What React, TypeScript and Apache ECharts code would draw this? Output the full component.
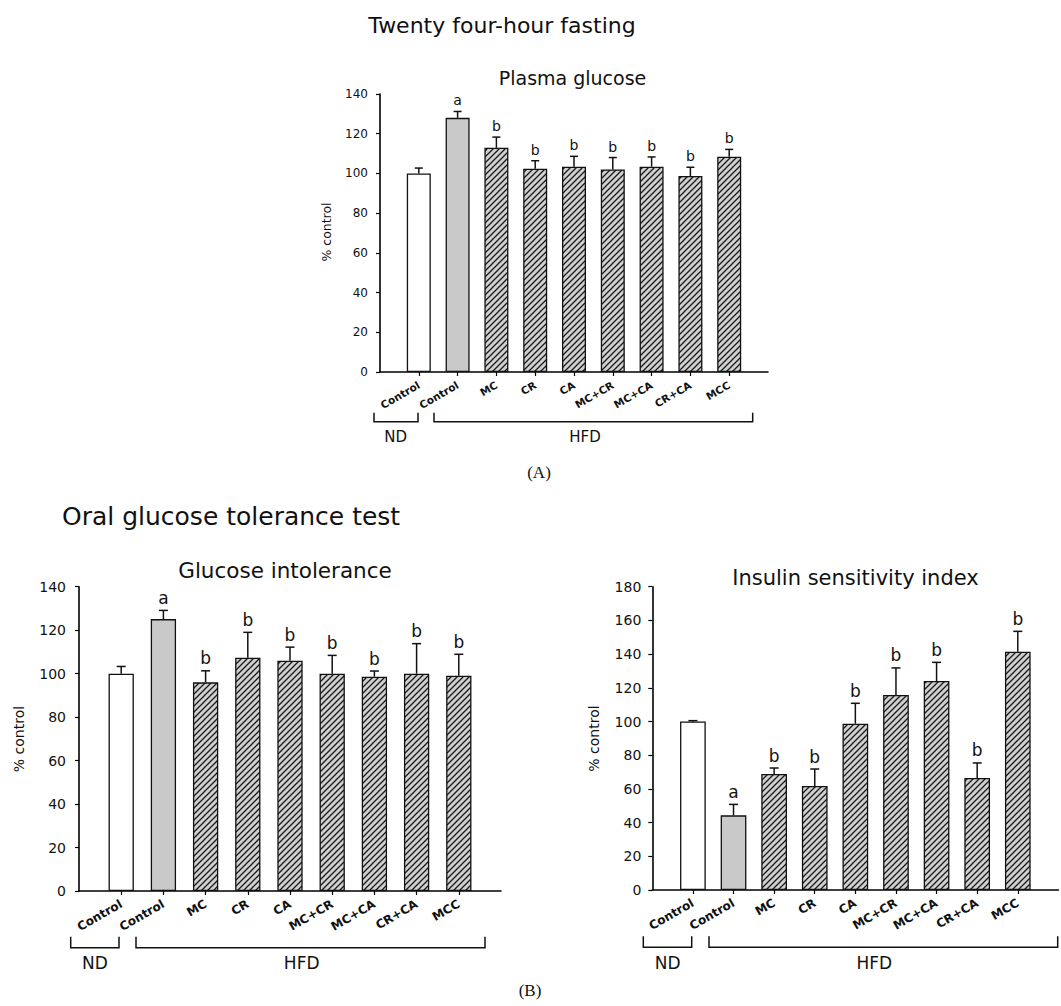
import React, { useEffect, useRef } from 'react';
import * as echarts from 'echarts';

// ---------- data ----------
const slots = ['', 'Control', 'Control', 'MC', 'CR', 'CA', 'MC+CR', 'MC+CA', 'CR+CA', 'MCC', ''];
const letters = ['', 'a', 'b', 'b', 'b', 'b', 'b', 'b', 'b'];

const plasmaMean = [100, 128.0, 112.9, 102.4, 103.4, 102.0, 103.4, 98.7, 108.4];
const plasmaErr = [2.7, 3.2, 5.4, 4.0, 5.2, 6.0, 4.9, 4.4, 3.7];

const toleranceMean = [100, 125.1, 96.0, 107.3, 105.9, 100.0, 98.6, 100.0, 99.0];
const toleranceErr = [3.3, 4.0, 5.3, 11.7, 6.3, 8.4, 2.6, 13.8, 9.9];

const insulinMean = [100, 44.3, 68.8, 61.7, 98.7, 115.7, 124.0, 66.5, 141.4];
const insulinErr = [0.5, 6.5, 3.6, 10.1, 12.1, 16.1, 11.1, 8.9, 12.1];

const yMaxA = 140;
const yMaxB1 = 140;
const yMaxB2 = 180;
const yStep = 20;

const FONT = 'DejaVu Sans';

function makeHatch() {
  const s = 6;
  const c = document.createElement('canvas');
  c.width = s;
  c.height = s;
  const ctx = c.getContext('2d')!;
  ctx.fillStyle = '#d0d0d0';
  ctx.fillRect(0, 0, s, s);
  ctx.strokeStyle = '#1a1a1a';
  ctx.lineWidth = 1.3;
  ctx.beginPath();
  ctx.moveTo(-1, s + 1);
  ctx.lineTo(s + 1, -1);
  ctx.moveTo(-1, 1);
  ctx.lineTo(1, -1);
  ctx.moveTo(s - 1, s + 1);
  ctx.lineTo(s + 1, s - 1);
  ctx.stroke();
  return { image: c.toDataURL(), repeat: 'repeat', imageWidth: s, imageHeight: s };
}

export default function App() {
  const ref = useRef<HTMLDivElement>(null);

  useEffect(() => {
    if (!ref.current) return;
    const chart = echarts.init(ref.current, null, { renderer: 'svg' });
    const hatch = makeHatch();

    const panels = [
      { grid: { left: 380, top: 94, width: 388, height: 278 }, max: yMaxA, mean: plasmaMean, err: plasmaErr, barWidth: 24, xFont: 10.5, yFont: 12, letterFont: 14, yMargin: 12, cap: 4 },
      { grid: { left: 79, top: 586.7, width: 422, height: 304.3 }, max: yMaxB1, mean: toleranceMean, err: toleranceErr, barWidth: 25.3, xFont: 12, yFont: 14, letterFont: 17, yMargin: 13, cap: 4.5 },
      { grid: { left: 652.3, top: 586.7, width: 420.7, height: 303.3 }, max: yMaxB2, mean: insulinMean, err: insulinErr, barWidth: 25.7, xFont: 12, yFont: 14, letterFont: 17, yMargin: 11, cap: 4.5 },
    ];

    const grids: any[] = [];
    const xAxes: any[] = [];
    const yAxes: any[] = [];
    const series: any[] = [];

    panels.forEach((p, gi) => {
      grids.push({ ...p.grid, containLabel: false });
      xAxes.push({
        type: 'category',
        gridIndex: gi,
        data: slots,
        boundaryGap: false,
        axisLine: { lineStyle: { color: '#000', width: 1.6 } },
        axisTick: { show: true, interval: (i: number) => i > 0 && i < slots.length - 1, length: 4, lineStyle: { color: '#000', width: 1.2 } },
        axisLabel: { interval: 0, rotate: 30, fontFamily: FONT, fontWeight: 'bold', fontSize: p.xFont, color: '#111', margin: 12 },
        splitLine: { show: false },
      });
      yAxes.push({
        type: 'value',
        gridIndex: gi,
        min: 0,
        max: p.max,
        interval: yStep,
        axisLine: { show: true, lineStyle: { color: '#000', width: 1.6 } },
        axisTick: { show: true, length: 4, lineStyle: { color: '#000', width: 1.2 } },
        axisLabel: { fontFamily: FONT, fontSize: p.yFont, color: '#111', margin: p.yMargin },
        splitLine: { show: false },
      });
      const barData: any[] = slots.map(() => '-');
      p.mean.forEach((m, k) => {
        let fill: any = hatch;
        if (k === 0) fill = '#ffffff';
        if (k === 1) fill = '#c9c9c9';
        barData[k + 1] = { value: m, itemStyle: { color: fill, borderColor: '#111', borderWidth: 1.3 } };
      });
      series.push({
        type: 'bar',
        xAxisIndex: gi,
        yAxisIndex: gi,
        data: barData,
        barWidth: p.barWidth,
        z: 2,
      });
      series.push({
        type: 'custom',
        xAxisIndex: gi,
        yAxisIndex: gi,
        z: 3,
        data: p.mean.map((m, k) => [k + 1, m, p.err[k]]),
        renderItem: (params: any, api: any) => {
          const i = api.value(0);
          const v = api.value(1);
          const e = api.value(2);
          const base = api.coord([i, v]);
          const top = api.coord([i, v + e]);
          const letter = letters[params.dataIndex];
          const children: any[] = [
            { type: 'line', shape: { x1: base[0], y1: base[1], x2: top[0], y2: top[1] }, style: { stroke: '#111', lineWidth: 1.5 } },
            { type: 'line', shape: { x1: top[0] - p.cap, y1: top[1], x2: top[0] + p.cap, y2: top[1] }, style: { stroke: '#111', lineWidth: 1.5 } },
          ];
          if (letter) {
            children.push({
              type: 'text',
              style: { text: letter, x: top[0], y: top[1] - 4, align: 'center', verticalAlign: 'bottom', fontFamily: FONT, fontSize: p.letterFont, fill: '#111' },
            });
          }
          return { type: 'group', children };
        },
      });
    });

    const txt = (text: string, x: number, y: number, size: number, extra: any = {}) => ({
      type: 'text',
      x,
      y,
      style: { text, fontFamily: FONT, fontSize: size, fill: '#111', align: 'center', verticalAlign: 'middle', ...extra.style },
      ...(extra.rotation !== undefined ? { rotation: extra.rotation } : {}),
    });
    const bracket = (x1: number, x2: number, y: number, h: number) => ({
      type: 'polyline',
      shape: { points: [[x1, y - h], [x1, y], [x2, y], [x2, y - h]] },
      style: { stroke: '#111', lineWidth: 1.5, fill: 'none' },
    });

    const graphic: any[] = [
      txt('Twenty four-hour fasting', 502, 25, 22),
      txt('Plasma glucose', 572.5, 77.5, 19),
      txt('% control', 326, 232, 12.5, { rotation: Math.PI / 2 }),
      bracket(374, 418, 421.7, 9),
      bracket(434, 752.7, 421.7, 9),
      txt('ND', 395.7, 436.5, 15),
      txt('HFD', 585, 436.5, 15),
      { type: 'text', x: 539, y: 472, style: { text: '(A)', fontFamily: 'Liberation Serif', fontSize: 17, fill: '#111', align: 'center', verticalAlign: 'middle' } },

      { type: 'text', x: 62, y: 516, style: { text: 'Oral glucose tolerance test', fontFamily: FONT, fontSize: 25, fill: '#111', align: 'left', verticalAlign: 'middle' } },
      txt('Glucose intolerance', 285, 570.5, 21.5),
      txt('Insulin sensitivity index', 855.5, 577.5, 21),
      txt('% control', 19, 739, 14, { rotation: Math.PI / 2 }),
      txt('% control', 594, 738.5, 14, { rotation: Math.PI / 2 }),
      bracket(70.7, 119, 947.7, 11),
      bracket(136, 485, 947.7, 11),
      txt('ND', 95, 962.5, 17),
      txt('HFD', 301.7, 962.5, 17),
      bracket(643.3, 691.7, 947.3, 11),
      bracket(709, 1057.7, 947.3, 11),
      txt('ND', 667.7, 962.5, 17),
      txt('HFD', 874.3, 962.5, 17),
      { type: 'text', x: 530, y: 990, style: { text: '(B)', fontFamily: 'Liberation Serif', fontSize: 17, fill: '#111', align: 'center', verticalAlign: 'middle' } },
    ];

    chart.setOption({
      animation: false,
      backgroundColor: '#ffffff',
      grid: grids,
      xAxis: xAxes,
      yAxis: yAxes,
      series,
      graphic,
    });

    return () => chart.dispose();
  }, []);

  return <div ref={ref} style={{ position: 'absolute', left: 0, top: 0, width: 1061, height: 1006 }} />;
}
